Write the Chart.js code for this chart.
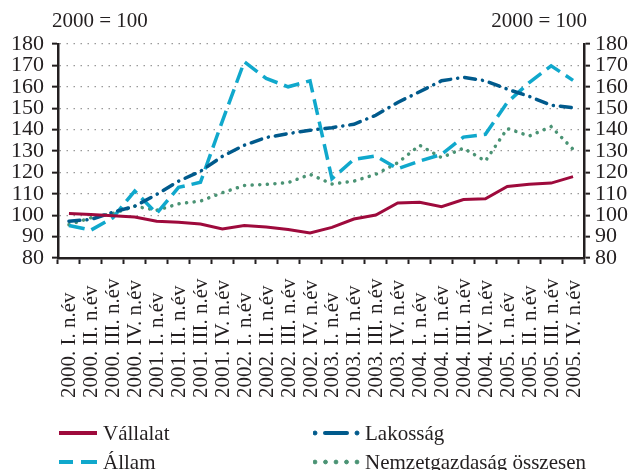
<!DOCTYPE html>
<html>
<head>
<meta charset="utf-8">
<script src="https://cdn.jsdelivr.net/npm/chart.js@4"></script>
<style>
  body { margin: 0; background: #fff; }
  #wrap { position: relative; width: 630px; height: 470px; font-family: "Liberation Serif", "Times New Roman", serif; color: #231f20; }
  canvas { position: absolute; left: 0; top: 0; }
  .unit { position: absolute; top: 8px; font-size: 21px; line-height: 24px; white-space: nowrap; }
  .leg { position: absolute; font-size: 21px; line-height: 24px; height: 24px; display: flex; align-items: center; white-space: nowrap; }
  .leg svg { margin-right: 4px; }
</style>
</head>
<body>
<div id="wrap">
  <canvas id="chart" width="630" height="470"></canvas>
  <div class="unit" style="left:52px">2000 = 100</div>
  <div class="unit" style="right:43px">2000 = 100</div>
  <div id="legend"></div>
</div>
<script>
// Data
const quarters = [
  "2000. I. n.év", "2000. II. n.év", "2000. III. n.év", "2000. IV. n.év",
  "2001. I. n.év", "2001. II. n.év", "2001. III. n.év", "2001. IV. n.év",
  "2002. I. n.év", "2002. II. n.év", "2002. III. n.év", "2002. IV. n.év",
  "2003. I. n.év", "2003. II. n.év", "2003. III. n.év", "2003. IV. n.év",
  "2004. I. n.év", "2004. II. n.év", "2004. III. n.év", "2004. IV. n.év",
  "2005. I. n.év", "2005. II. n.év", "2005. III. n.év", "2005. IV. n.év",
];
const vallalat = [100.8, 100.3, 99.8, 99.2, 97.2, 96.7, 95.9, 93.6, 95.2, 94.5, 93.3, 91.7,
  94.3, 98.2, 100.1, 105.7, 106.0, 104.0, 107.3, 107.7, 113.4, 114.5, 115.0, 118.0];
const lakossag = [97.2, 98.0, 101.4, 104.2, 109.7, 115.9, 120.5, 127.5, 132.7, 136.3, 138.1, 139.7,
  140.9, 142.5, 146.7, 152.7, 157.7, 162.8, 164.4, 162.8, 158.9, 155.5, 151.4, 150.2];
const allam = [95.2, 93.0, 98.8, 111.3, 100.8, 113.0, 115.4, 144.0, 171.7, 163.9, 160.0, 162.8,
  117.0, 126.1, 127.7, 121.7, 125.3, 128.4, 136.5, 137.8, 152.7, 162.0, 169.8, 163.0];
const nemzetgazdasag = [95.6, 98.8, 100.8, 104.2, 102.3, 105.3, 106.6, 110.5, 113.9, 114.4, 115.2, 119.1,
  114.6, 115.9, 119.1, 124.5, 132.7, 126.9, 131.3, 125.3, 140.5, 137.0, 141.4, 130.8];
const yMin = 80;
const yMax = 180;

const textColor = "#231f20";
Chart.defaults.font.family = '"Liberation Serif", "Times New Roman", serif';
Chart.defaults.color = textColor;

// Series styles; legend samples are drawn as small svg marks
const seriesConfigs = [
  { label: "Vállalat", data: vallalat, color: "#9e0a3c", width: 3, dash: [], cap: "butt",
    legend: { x: 59, y: 421, len: 40,
      marks: '<line x1="0" y1="5" x2="38" y2="5" stroke-width="4"/>' } },
  { label: "Lakosság", data: lakossag, color: "#005a8c", width: 3.5, dash: [11, 7, 0.1, 7], cap: "round",
    legend: { x: 313, y: 421, len: 48,
      marks: '<circle cx="2" cy="5" r="2"/><line x1="12" y1="5" x2="34" y2="5" stroke-width="4" stroke-linecap="round"/><circle cx="44" cy="5" r="2"/>' } },
  { label: "Állam", data: allam, color: "#10a8cc", width: 3.5, dash: [16, 7], cap: "butt",
    legend: { x: 59, y: 450, len: 40,
      marks: '<line x1="0" y1="5" x2="14" y2="5" stroke-width="4"/><line x1="22" y1="5" x2="38" y2="5" stroke-width="4"/>' } },
  { label: "Nemzetgazdaság összesen", data: nemzetgazdasag, color: "#4a9374", width: 3.5, dash: [0.1, 7.5], cap: "round",
    legend: { x: 313, y: 450, len: 48,
      marks: '<circle cx="2" cy="5" r="1.9"/><circle cx="12.5" cy="5" r="1.9"/><circle cx="23" cy="5" r="1.9"/><circle cx="33.5" cy="5" r="1.9"/><circle cx="44" cy="5" r="1.9"/>' } },
];

// Rotated category labels, start-aligned at the bottom
const xLabelPlugin = {
  id: "xLabels",
  afterDraw(chart) {
    const { ctx, chartArea, scales } = chart;
    ctx.save();
    ctx.font = '21px "Liberation Serif"';
    ctx.fillStyle = textColor;
    ctx.textAlign = "left";
    ctx.textBaseline = "middle";
    quarters.forEach((q, i) => {
      ctx.save();
      ctx.translate(scales.x.getPixelForValue(i) + 1, chartArea.bottom + 140);
      ctx.rotate(-Math.PI / 2);
      ctx.fillText(q, 0, 0);
      ctx.restore();
    });
    ctx.restore();
  },
};

const yAxis = (position, width) => ({
  position: position,
  min: yMin,
  max: yMax,
  afterFit: (scale) => { scale.width = width; },
  ticks: {
    stepSize: 10,
    autoSkip: false,
    padding: position === "left" ? 8 : 5,
    font: { size: 22 },
    color: textColor,
  },
  grid: {
    drawOnChartArea: position === "left",
    color: (ctx) => (ctx.tick && ctx.tick.value === yMin ? "rgba(0,0,0,0)" : "#9a9a9a"),
    lineWidth: 1.3,
    tickColor: textColor,
    tickWidth: 2,
    tickLength: 6,
    tickBorderDash: [],
  },
  border: { color: textColor, width: 2.5, dash: [1.5, 5.5] },
});

new Chart(document.getElementById("chart"), {
  type: "line",
  data: {
    labels: quarters,
    datasets: seriesConfigs.map((s) => ({
      label: s.label,
      data: s.data,
      borderColor: s.color,
      borderWidth: s.width,
      borderDash: s.dash,
      borderCapStyle: s.cap,
      pointRadius: 0,
      tension: 0,
      fill: false,
      yAxisID: "y",
    })),
  },
  options: {
    responsive: false,
    animation: false,
    layout: { padding: { top: 44, left: 0, right: 0, bottom: 0 } },
    plugins: { legend: { display: false }, tooltip: { enabled: false } },
    scales: {
      x: {
        offset: true,
        afterFit: (scale) => { scale.height = 212; },
        ticks: { display: false },
        grid: {
          offset: true,
          drawOnChartArea: false,
          drawTicks: true,
          tickLength: 6,
          tickWidth: 2,
          tickColor: textColor,
        },
        border: { color: textColor, width: 2.5 },
      },
      y: yAxis("left", 58),
      y1: yAxis("right", 46),
    },
  },
  plugins: [xLabelPlugin],
});

// Legend (two columns, as in the reference)
const legendBox = document.getElementById("legend");
seriesConfigs.forEach((s) => {
  const l = s.legend;
  const item = document.createElement("div");
  item.className = "leg";
  item.style.left = l.x + "px";
  item.style.top = l.y + "px";
  item.innerHTML =
    `<svg width="${l.len}" height="10" fill="${s.color}" stroke="${s.color}">${l.marks}</svg>` +
    `<span>${s.label}</span>`;
  legendBox.appendChild(item);
});
</script>
</body>
</html>
